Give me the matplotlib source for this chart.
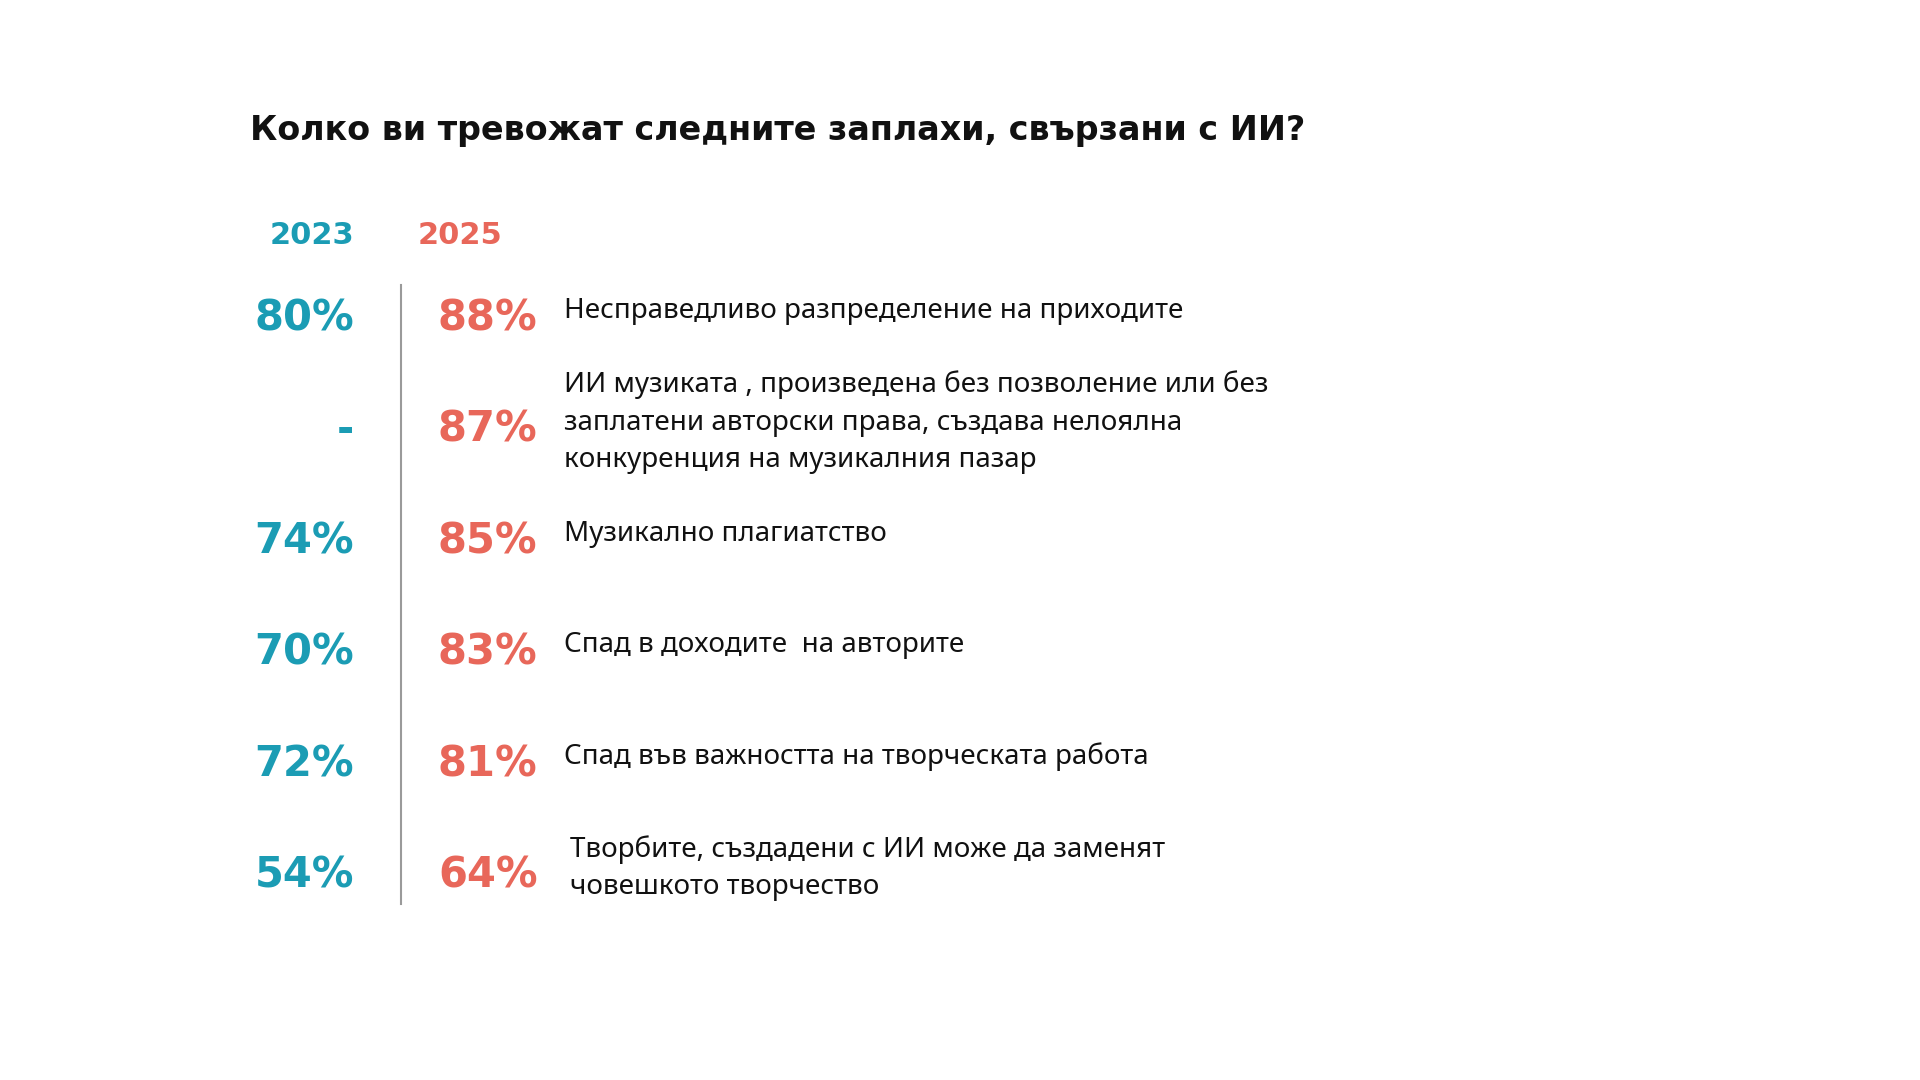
import matplotlib
matplotlib.use("Agg")
import matplotlib.pyplot as plt

# data
title = "Колко ви тревожат следните заплахи, свързани с ИИ?"
years = ["2023", "2025"]
values_2023 = [80, None, 74, 70, 72, 54]
values_2025 = [88, 87, 85, 83, 81, 64]
labels = [
    "Несправедливо разпределение на приходите",
    "ИИ музиката , произведена без позволение или без\nзаплатени авторски права, създава нелоялна\nконкуренция на музикалния пазар",
    "Музикално плагиатство",
    "Спад в доходите  на авторите",
    "Спад във важността на творческата работа",
    "Творбите, създадени с ИИ може да заменят\nчовешкото творчество",
]

TEAL = "#1b9cb4"
CORAL = "#e8675a"
BOLD = ["DejaVu Sans"]
FONT = "Noto Sans"

fig = plt.figure(figsize=(19.2, 10.8), dpi=100)
ax = fig.add_axes([0, 0, 1, 1])
ax.set_xlim(0, 1550)
ax.set_ylim(872, 0)
ax.axis("off")

ax.text(202, 105, title, fontsize=24, fontweight="bold", family=BOLD,
        va="center", ha="left", color="#111111")

ax.text(252, 190, years[0], fontsize=22, fontweight="bold", family=BOLD,
        color=TEAL, ha="center", va="center")
ax.text(371, 190, years[1], fontsize=22, fontweight="bold", family=BOLD,
        color=CORAL, ha="center", va="center")

ax.plot([324, 324], [230, 730], color="#9a9a9a", lw=1.5)

row0, step = 257, 90
for i, (v1, v2, lab) in enumerate(zip(values_2023, values_2025, labels)):
    y = row0 + step * i
    t1 = "-" if v1 is None else f"{v1}%"
    ax.text(286, y, t1, fontsize=30, fontweight="bold", family=BOLD,
            color=TEAL, ha="right", va="center")
    ax.text(434, y, f"{v2}%", fontsize=30, fontweight="bold", family=BOLD,
            color=CORAL, ha="right", va="center")
    lx = 460 if i == len(labels) - 1 else 455
    ax.text(lx, y - 6, lab, fontsize=20, family=FONT, color="#111111",
            ha="left", va="center", linespacing=1.45)

fig.savefig("out.png", dpi=100, facecolor="white")
